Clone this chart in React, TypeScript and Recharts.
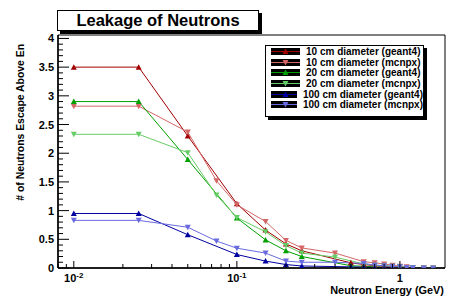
import React from 'react';
import { LineChart, Line, XAxis, YAxis, Legend, ReferenceArea, Label } from 'recharts';

// energy points (GeV)
const xGeant = [0.01, 0.025, 0.05, 0.1, 0.15, 0.2, 0.25, 0.5, 0.6, 0.7, 0.8, 0.9];
const xMcnpx = [0.01, 0.025, 0.05, 0.075, 0.1, 0.15, 0.2, 0.25, 0.4, 0.6, 0.7, 0.8, 0.9, 1.0, 1.1, 1.2, 1.4, 1.6];

// neutrons escaping above En
const d10Geant = [3.5, 3.5, 2.3, 1.12, 0.66, 0.42, 0.3, 0.09, 0.06, 0.04, 0.03, 0.02];
const d10Mcnpx = [2.82, 2.82, 2.37, 1.52, 1.1, 0.81, 0.48, 0.35, 0.26, 0.11, 0.09, 0.07, 0.05, 0.03, 0.02, 0.01, 0.005, 0];
const d20Geant = [2.9, 2.9, 1.89, 0.87, 0.49, 0.3, 0.2, 0.04, 0.03, 0.02, 0.01, 0.01];
const d20Mcnpx = [2.33, 2.33, 2.01, 1.27, 0.88, 0.63, 0.39, 0.26, 0.19, 0.07, 0.05, 0.04, 0.03, 0.02, 0.01, 0.01, 0, 0];
const d100Geant = [0.95, 0.95, 0.58, 0.235, 0.12, 0.06, 0.035, 0.02, 0.015, 0.01, 0.01, 0.005];
const d100Mcnpx = [0.83, 0.83, 0.71, 0.47, 0.345, 0.26, 0.12, 0.1, 0.1, 0.08, 0.05, 0.04, 0.03, 0.02, 0.01, 0.005, 0, 0];

const yLabels = [0, 0.5, 1, 1.5, 2, 2.5, 3, 3.5, 4];
const yTicks = Array.from({ length: 41 }, (_, i) => Math.round(i * 10) / 100);
const xDecades = [0.01, 0.1, 1];
const xTicks = [0.008, 0.009, 0.01, 0.02, 0.03, 0.04, 0.05, 0.06, 0.07, 0.08, 0.09,
  0.1, 0.2, 0.3, 0.4, 0.5, 0.6, 0.7, 0.8, 0.9, 1];

const toRows = (xs: number[], ys: number[]) => xs.map((x, i) => ({ x, y: ys[i] }));

const series = [
  { name: '10 cm diameter (geant4)', color: '#a00000', up: true, data: toRows(xGeant, d10Geant) },
  { name: '10 cm diameter (mcnpx)', color: '#d46666', up: false, data: toRows(xMcnpx, d10Mcnpx) },
  { name: '20 cm diameter (geant4)', color: '#00a000', up: true, data: toRows(xGeant, d20Geant) },
  { name: '20 cm diameter (mcnpx)', color: '#66cc66', up: false, data: toRows(xMcnpx, d20Mcnpx) },
  { name: '100 cm diameter (geant4)', color: '#0000a0', up: true, data: toRows(xGeant, d100Geant) },
  { name: '100 cm diameter (mcnpx)', color: '#6a6ae0', up: false, data: toRows(xMcnpx, d100Mcnpx) },
];

const FONT = '"Liberation Sans", Arial, Helvetica, sans-serif';

const Tri = ({ cx, cy, fill, up }: any) => {
  const pts = up
    ? `${cx - 3},${cy + 2.5} ${cx + 3},${cy + 2.5} ${cx},${cy - 3}`
    : `${cx - 3},${cy - 2.5} ${cx + 3},${cy - 2.5} ${cx},${cy + 3}`;
  return <polygon points={pts} fill={fill} />;
};

const YTick = ({ x, y, payload }: any) => {
  const v = payload.value;
  const major = yLabels.some((l) => Math.abs(l - v) < 1e-6);
  return (
    <g>
      <line x1={x} x2={x + (major ? 11 : 5)} y1={y} y2={y} stroke="#000" />
      {major && (
        <text x={x - 4} y={y + 4} textAnchor="end" fontSize={11} fontWeight="bold" fontFamily={FONT} fill="#000">
          {String(v)}
        </text>
      )}
    </g>
  );
};

const XTick = ({ x, y, payload }: any) => {
  const v = payload.value;
  const major = xDecades.includes(v);
  let label: React.ReactNode = null;
  if (v === 1) label = '1';
  else if (v === 0.1) label = <><tspan>10</tspan><tspan dy={-4} fontSize={8}>-1</tspan></>;
  else if (v === 0.01) label = <><tspan>10</tspan><tspan dy={-4} fontSize={8}>-2</tspan></>;
  return (
    <g>
      <line x1={x} x2={x} y1={y} y2={y - (major ? 7 : 4)} stroke="#000" />
      {label && (
        <text x={x} y={y + 13.5} textAnchor="middle" fontSize={11} fontWeight="bold" fontFamily={FONT} fill="#000">
          {label}
        </text>
      )}
    </g>
  );
};

const LegendBox = () => (
  <div style={{ background: '#fff', border: '1px solid #000', boxShadow: '3px 3px 0 #000', width: 159, height: 72, boxSizing: 'border-box' }}>
    {series.map((s) => (
      <div key={s.name} style={{ display: 'flex', alignItems: 'center', height: 10.7 }}>
        <svg width={29} height={7} style={{ marginLeft: 5, display: 'block' }}>
          <rect x={0} y={0} width={29} height={7} fill="#000" />
          <line x1={0} x2={29} y1={3.5} y2={3.5} stroke={s.color} />
          <Tri cx={14.5} cy={3.5} fill={s.color} up={s.up} />
        </svg>
        <span style={{ marginLeft: 6, font: `bold 10px ${FONT}`, color: '#000', whiteSpace: 'nowrap' }}>{s.name}</span>
      </div>
    ))}
  </div>
);

export default function App() {
  return (
    <div style={{ position: 'absolute', left: 0, top: 0, width: 451, height: 296, background: '#fff', fontFamily: FONT }}>
      <LineChart width={451} height={296} margin={{ top: 35, right: 6, bottom: 0, left: 0 }}>
        <XAxis
          dataKey="x"
          type="number"
          scale="log"
          domain={[0.008, 1.89]}
          allowDataOverflow
          ticks={xTicks}
          interval={0}
          height={28}
          tickSize={0}
          tickMargin={0}
          tickLine={false}
          axisLine={{ stroke: '#000', strokeWidth: 1.5 }}
          tick={<XTick />}
        >
          <Label
            content={() => (
              <text x={444} y={294} textAnchor="end" fontSize={10.9} fontWeight="bold" fontFamily={FONT} fill="#000">
                Neutron Energy (GeV)
              </text>
            )}
          />
        </XAxis>
        <YAxis
          type="number"
          domain={[0, 4.06]}
          allowDataOverflow
          ticks={yTicks}
          interval={0}
          width={58}
          tickSize={0}
          tickMargin={0}
          tickLine={false}
          axisLine={{ stroke: '#000', strokeWidth: 1.5 }}
          tick={<YTick />}
        >
          <Label
            content={() => (
              <text x={24} y={44} transform="rotate(-90 24 44)" textAnchor="end" fontSize={10.4} fontWeight="bold" fontFamily={FONT} fill="#000">
                # of Neutrons Escape Above En
              </text>
            )}
          />
        </YAxis>
        <ReferenceArea x1={0.008} x2={1.89} y1={0} y2={4.06} fill="none" stroke="#000" strokeWidth={1} />
        {series.map((s) => (
          <Line
            key={s.name}
            data={s.data}
            dataKey="y"
            name={s.name}
            type="linear"
            stroke={s.color}
            strokeWidth={1}
            isAnimationActive={false}
            dot={(p: any) => <Tri key={`${s.name}-${p.index}`} cx={p.cx} cy={p.cy} fill={s.color} up={s.up} />}
            activeDot={false}
          />
        ))}
        <Legend
          layout="vertical"
          align="center"
          verticalAlign="middle"
          wrapperStyle={{ left: 265, top: 45, width: 159, height: 72 }}
          content={() => <LegendBox />}
        />
      </LineChart>
      <div
        style={{
          position: 'absolute', left: 57, top: 10, width: 202, height: 21, boxSizing: 'border-box',
          border: '1px solid #000', boxShadow: '3px 3px 0 #000', background: '#fff',
          font: `bold 16.5px ${FONT}`, lineHeight: '19px', textAlign: 'center', color: '#000',
        }}
      >
        Leakage of Neutrons
      </div>
    </div>
  );
}
